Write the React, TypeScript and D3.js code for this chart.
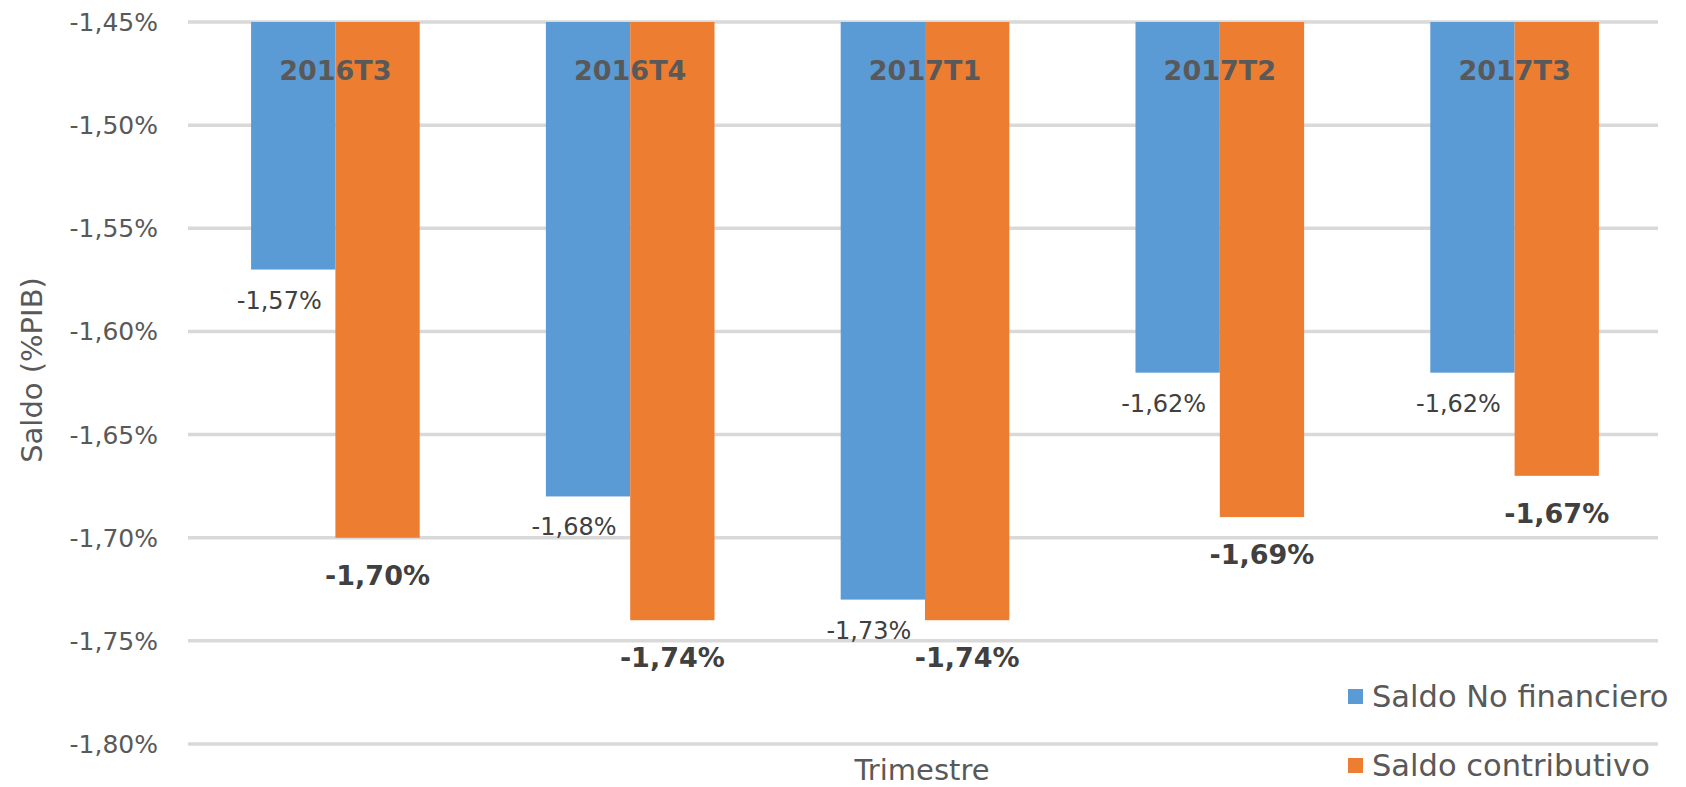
import React from "react";
import * as d3 from "d3";

const categories = ["2016T3", "2016T4", "2017T1", "2017T2", "2017T3"];
const seriesNames = ["Saldo No financiero", "Saldo contributivo"];
const saldoNoFinanciero = [-1.57, -1.68, -1.73, -1.62, -1.62];
const saldoContributivo = [-1.70, -1.74, -1.74, -1.69, -1.67];
const yTicks = [-1.45, -1.5, -1.55, -1.6, -1.65, -1.7, -1.75, -1.8];
const colors = ["#5B9BD5", "#ED7D31"];

const W = 1686;
const H = 787;
const FONT = "'DejaVu Sans', sans-serif";

const fmt = (v: number) => v.toFixed(2).replace(".", ",") + "%";

export default function App() {
  const x = d3
    .scaleBand<string>()
    .domain(categories)
    .range([188, 1662])
    .paddingInner(0.428)
    .paddingOuter(0.214);
  const x1 = d3
    .scaleBand<number>()
    .domain([0, 1])
    .range([0, x.bandwidth()]);
  const y = d3.scaleLinear().domain([-1.45, -1.8]).range([22, 744]);
  const series = [saldoNoFinanciero, saldoContributivo];
  const base = y(-1.45);

  return (
    <svg
      width={W}
      height={H}
      style={{ position: "fixed", left: 0, top: 0, background: "#fff" }}
      fontFamily={FONT}
    >
      {yTicks.map((t) => (
        <g key={t}>
          <line
            x1={188}
            x2={1658}
            y1={y(t)}
            y2={y(t)}
            stroke="#D9D9D9"
            strokeWidth={3.5}
          />
          <text
            x={158}
            y={y(t) + 9}
            textAnchor="end"
            fontSize={25}
            fill="#595959"
          >
            {fmt(t)}
          </text>
        </g>
      ))}
      {categories.map((c, i) => (
        <g key={c} transform={`translate(${x(c)},0)`}>
          {series.map((s, k) => (
            <rect
              key={k}
              x={x1(k)}
              y={base}
              width={x1.bandwidth()}
              height={y(s[i]) - base}
              fill={colors[k]}
            />
          ))}
          <text
            x={x.bandwidth() / 2}
            y={80}
            textAnchor="middle"
            fontSize={27}
            fontWeight="bold"
            fill="#595959"
          >
            {c}
          </text>
          <text
            x={x1(0)! + x1.bandwidth() / 2 - 14}
            y={y(series[0][i]) + 39}
            textAnchor="middle"
            fontSize={24}
            fill="#404040"
          >
            {fmt(series[0][i])}
          </text>
          <text
            x={x1(1)! + x1.bandwidth() / 2}
            y={y(series[1][i]) + 47}
            textAnchor="middle"
            fontSize={27}
            fontWeight="bold"
            fill="#404040"
          >
            {fmt(series[1][i])}
          </text>
        </g>
      ))}
      <text
        transform={`translate(42,370) rotate(-90)`}
        textAnchor="middle"
        fontSize={29}
        fill="#595959"
      >
        Saldo (%PIB)
      </text>
      <text x={922} y={780} textAnchor="middle" fontSize={29} fill="#595959">
        Trimestre
      </text>
      {seriesNames.map((n, k) => (
        <g key={n} transform={`translate(1348,${k === 0 ? 689 : 758})`}>
          <rect width={15} height={15} fill={colors[k]} />
          <text x={24} y={18} fontSize={30.5} fill="#595959">
            {n}
          </text>
        </g>
      ))}
    </svg>
  );
}
